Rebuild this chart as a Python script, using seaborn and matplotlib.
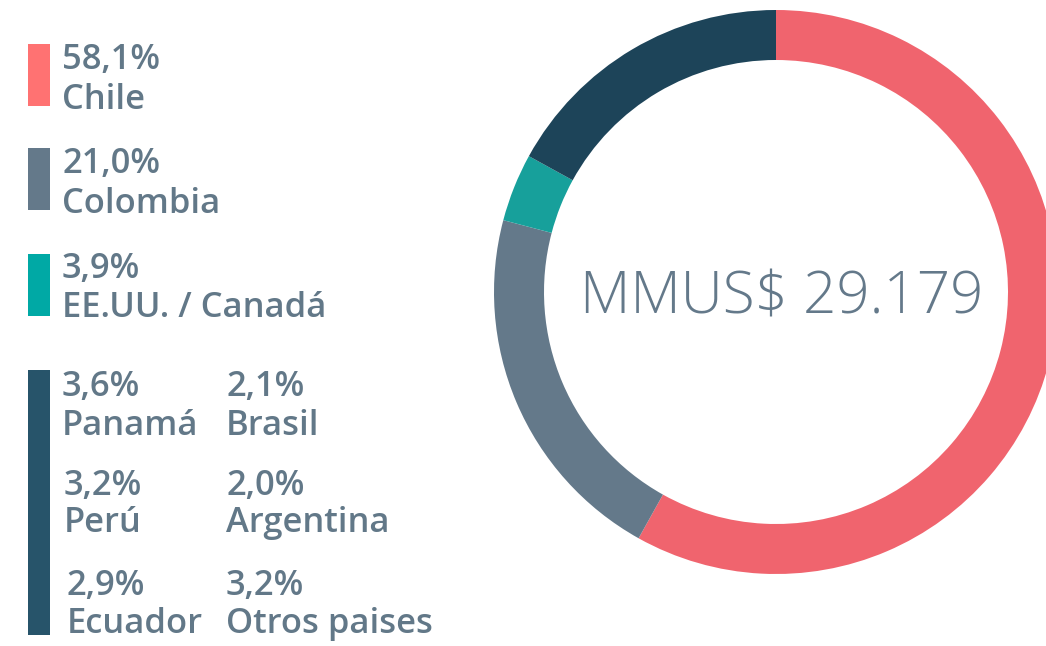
import matplotlib
matplotlib.use("Agg")
import matplotlib.pyplot as plt
import seaborn as sns

# ---- data ----
main_labels = ["Chile", "Colombia", "EE.UU. / Canadá"]
main_values = [58.1, 21.0, 3.9]
other_labels = ["Panamá", "Perú", "Ecuador", "Brasil", "Argentina", "Otros paises"]
other_values = [3.6, 3.2, 2.9, 2.1, 2.0, 3.2]
center_label = "MMUS$ 29.179"

ring_colors = ["#F0646E", "#64798A", "#17A09B", "#1D4459"]
bar_colors = ["#FF7272", "#64798A", "#00A9A5", "#27546A"]
text_color = "#627888"

sns.set_theme(style="white")
plt.rcParams["font.family"] = ["Open Sans", "DejaVu Sans"]

W, H = 1046, 646
fig = plt.figure(figsize=(W / 100, H / 100), dpi=100)
fig.patch.set_facecolor("white")

def fx(x):
    return x / W

def fy(y):
    return 1 - y / H

# ---- donut ----
cx, cy, R = 776, 292, 282
ax = fig.add_axes([fx(cx - R), fy(cy + R), 2 * R / W, 2 * R / H])
values = main_values + [round(sum(other_values), 1)]
ax.pie(values, colors=ring_colors, startangle=90, counterclock=False, radius=1,
       wedgeprops=dict(width=50 / R, linewidth=0, edgecolor="none"))
ax.set_xlim(-1, 1)
ax.set_ylim(-1, 1)
ax.set_aspect("equal")
ax.axis("off")
ax.text(0.02, -0.02, center_label, ha="center", va="center", fontsize=42,
        fontweight="light", color="#64798A")

# ---- legend ----
def bar(y0, y1, color):
    fig.patches.append(plt.Rectangle((fx(28), fy(y1)), 22 / W, (y1 - y0) / H,
                                     transform=fig.transFigure, color=color, lw=0))

def entry(x, yb1, yb2, pct, name):
    kw = dict(fontsize=24.8, fontweight="semibold", color=text_color, va="baseline", ha="left")
    fig.text(fx(x), fy(yb1), pct, **kw)
    fig.text(fx(x), fy(yb2), name, **kw)

def fmt(v):
    return f"{v:.1f}%".replace(".", ",")

bar(44, 106, bar_colors[0])
bar(148, 210, bar_colors[1])
bar(254, 316, bar_colors[2])
bar(370, 635, bar_colors[3])

entry(62, 69, 109, fmt(main_values[0]), main_labels[0])
entry(62, 173, 213, fmt(main_values[1]), main_labels[1])
entry(62, 278, 317, fmt(main_values[2]), main_labels[2])

rows_b = [(396, 435), (495, 532), (595, 633)]
left_x = [62, 64, 67]
for i in range(3):
    entry(left_x[i], rows_b[i][0], rows_b[i][1], fmt(other_values[i]), other_labels[i])
    entry(226, rows_b[i][0], rows_b[i][1], fmt(other_values[i + 3]), other_labels[i + 3])

fig.savefig("out.png", dpi=100, facecolor="white")
